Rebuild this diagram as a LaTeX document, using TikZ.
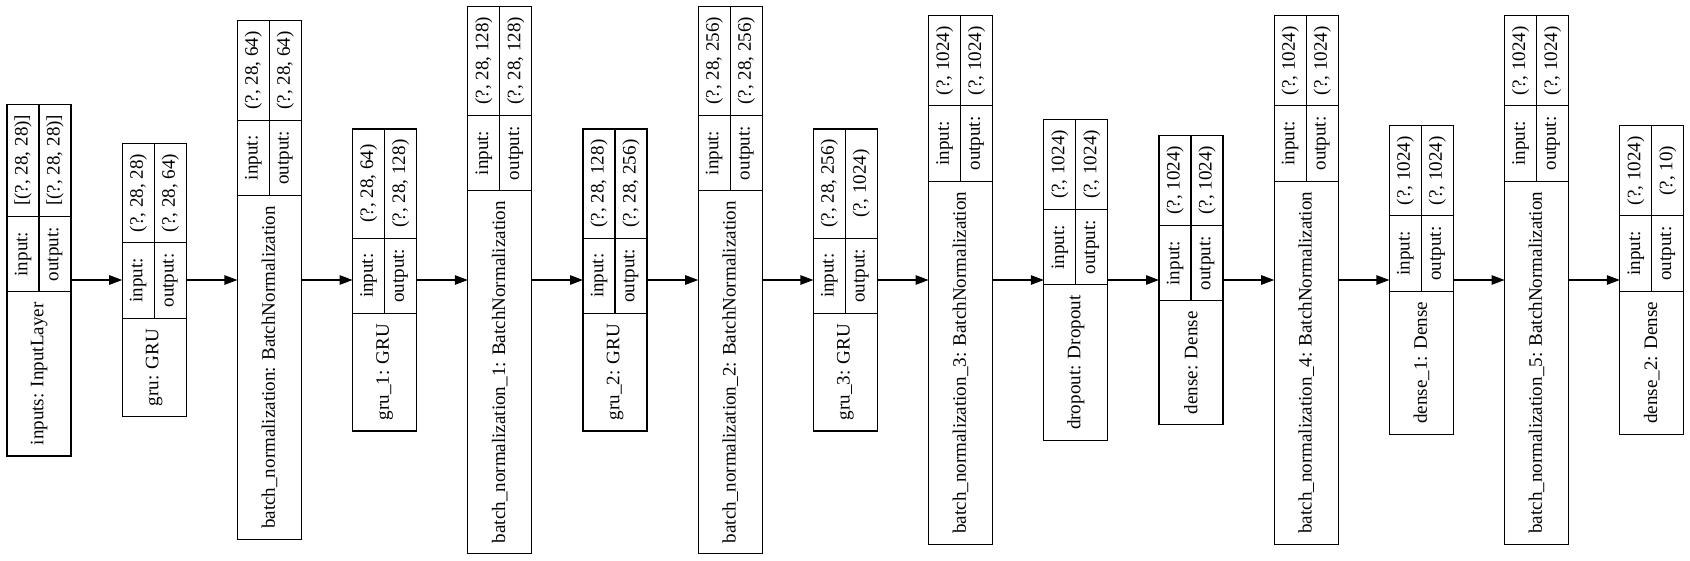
\documentclass[tikz,border=0pt]{standalone}
\usepackage{fontspec}
\setmainfont{Liberation Serif}
\usetikzlibrary{arrows.meta}
\newlength\Ltmp \newlength\Lalt
\newcommand\fs{\fontsize{19.05pt}{23pt}\selectfont}
\tikzset{
  layerbox/.style={draw, line width=1.2pt, minimum width=64pt, inner sep=0pt, outer sep=0pt, anchor=north west},
  sepline/.style={line width=1.2pt},
  txt/.style={font=\fs, rotate=90, inner sep=0pt},
  flow/.style={line width=1.2pt, -{Triangle[length=13pt,width=9.5pt]}}
}
% measuring pass (outside the picture)
\newcommand\measure[5]{%
  \settowidth\Ltmp{\normalfont\fs #3}%
  \expandafter\xdef\csname LN#1\endcsname{\the\Ltmp}%
  \settowidth\Ltmp{\normalfont\fs #4}\settowidth\Lalt{\normalfont\fs #5}%
  \ifdim\Lalt>\Ltmp \Ltmp=\Lalt\fi
  \expandafter\xdef\csname LV#1\endcsname{\the\Ltmp}%
}
% drawing pass
\newcommand\drawlayer[5]{%
  \pgfmathsetmacro\Wn{\csname LN#1\endcsname+21.33}%
  \pgfmathsetmacro\Wv{\csname LV#1\endcsname+21.33}%
  \pgfmathsetmacro\Wl{\LLab+21.33}%
  \pgfmathsetmacro\Hp{\Wn+\Wl+\Wv}%
  \pgfmathsetmacro\Tp{280-\Hp/2}%
  \pgfmathsetmacro\Ya{\Tp+\Wv}%
  \pgfmathsetmacro\Yb{\Ya+\Wl}%
  \pgfmathsetmacro\Yc{\Tp+\Hp}%
  \pgfmathsetmacro\Xl{7+115.2*#2}%
  \node[layerbox, minimum height=\Hp pt] (#1) at (\Xl,\Tp) {};
  \draw[sepline] (\Xl,\Ya) -- ++(64,0) (\Xl,\Yb) -- ++(64,0) ({\Xl+32},\Tp) -- ({\Xl+32},\Yb);
  \node[txt] (#1-iv) at ({\Xl+16},{(\Tp+\Ya)/2}) {#4};
  \node[txt] (#1-ov) at ({\Xl+48},{(\Tp+\Ya)/2}) {#5};
  \node[txt] (#1-il) at ({\Xl+16},{(\Ya+\Yb)/2}) {input:};
  \node[txt] (#1-ol) at ({\Xl+48},{(\Ya+\Yb)/2}) {output:};
  \node[txt] (#1-nm) at ({\Xl+32},{(\Yb+\Yc)/2}) {#3};
}
\newcommand\alllayers{%
\layer{n0}{0}{inputs: InputLayer}{[(?, 28, 28)]}{[(?, 28, 28)]}%
\layer{n1}{1}{gru: GRU}{(?, 28, 28)}{(?, 28, 64)}%
\layer{n2}{2}{batch\_normalization: BatchNormalization}{(?, 28, 64)}{(?, 28, 64)}%
\layer{n3}{3}{gru\_1: GRU}{(?, 28, 64)}{(?, 28, 128)}%
\layer{n4}{4}{batch\_normalization\_1: BatchNormalization}{(?, 28, 128)}{(?, 28, 128)}%
\layer{n5}{5}{gru\_2: GRU}{(?, 28, 128)}{(?, 28, 256)}%
\layer{n6}{6}{batch\_normalization\_2: BatchNormalization}{(?, 28, 256)}{(?, 28, 256)}%
\layer{n7}{7}{gru\_3: GRU}{(?, 28, 256)}{(?, 1024)}%
\layer{n8}{8}{batch\_normalization\_3: BatchNormalization}{(?, 1024)}{(?, 1024)}%
\layer{n9}{9}{dropout: Dropout}{(?, 1024)}{(?, 1024)}%
\layer{n10}{10}{dense: Dense}{(?, 1024)}{(?, 1024)}%
\layer{n11}{11}{batch\_normalization\_4: BatchNormalization}{(?, 1024)}{(?, 1024)}%
\layer{n12}{12}{dense\_1: Dense}{(?, 1024)}{(?, 1024)}%
\layer{n13}{13}{batch\_normalization\_5: BatchNormalization}{(?, 1024)}{(?, 1024)}%
\layer{n14}{14}{dense\_2: Dense}{(?, 1024)}{(?, 10)}%
}
\AtBeginDocument{%
  \begingroup
  \let\layer\measure
  \alllayers
  \settowidth\Ltmp{\normalfont\fs output:}%
  \xdef\LLab{\the\Ltmp}%
  \endgroup
}
\begin{document}
\begin{tikzpicture}[x=1pt,y=-1pt]
\useasboundingbox (0,0) rectangle (1690,560);
\let\layer\drawlayer
\alllayers
\foreach \a/\b in {n0/n1,n1/n2,n2/n3,n3/n4,n4/n5,n5/n6,n6/n7,n7/n8,n8/n9,n9/n10,n10/n11,n11/n12,n12/n13,n13/n14}
  \draw[flow] (\a.east) -- (\b.west);
\end{tikzpicture}
\end{document}
